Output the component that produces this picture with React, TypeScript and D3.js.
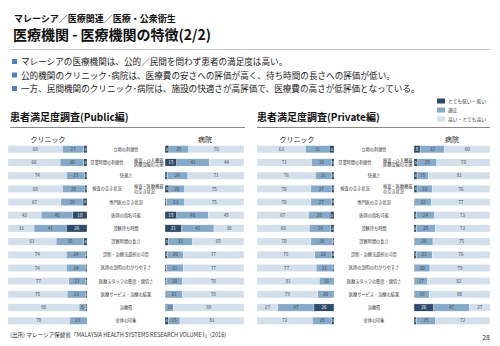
import React from "react";
import * as d3 from "d3";

const categories = [
  "立地の利便性", "営業時間の利便性", "快適さ", "検査の空き状況", "専門医の空き状況",
  "医師の指名可能", "診察待ち時間", "診察時間の長さ", "診断・治療法選択の可否",
  "医師の説明のわかりやすさ", "医療スタッフの態度・親切さ", "医療サービス・治療の結果",
  "治療費", "全体の印象",
];
const hospitalCategories = [
  "立地の利便性", "検査・介入機器|医療設備の実施", "快適さ", "検査・医療機器|の空き状況", "専門医の空き状況",
  "医師の指名可能", "診察待ち時間", "診察時間の長さ", "診断・治療法選択の可否",
  "医師の説明のわかりやすさ", "医療スタッフの態度・親切さ", "医療サービス・治療の結果",
  "治療費", "全体の印象",
];
// [high, neutral, low]
const publicClinic = [
  [69, 27, 4], [66, 30, 4], [74, 23, 3], [69, 28, 3], [67, 28, 5], [42, 40, 18], [33, 41, 26],
  [61, 35, 4], [74, 24, 2], [74, 24, 2], [77, 21, 2], [75, 23, 2], [90, 8, 2], [78, 21, 1],
];
const publicHospital = [
  [70, 25, 5], [44, 41, 15], [71, 26, 3], [75, 20, 5], [75, 23, 2], [45, 40, 15], [38, 41, 21],
  [65, 31, 4], [77, 20, 3], [77, 21, 2], [78, 20, 2], [78, 21, 1], [89, 10, 1], [81, 15, 4],
];
const privateClinic = [
  [63, 31, 6], [71, 26, 3], [76, 21, 3], [70, 27, 3], [70, 27, 3], [67, 28, 5], [68, 28, 4],
  [70, 28, 2], [75, 22, 3], [77, 21, 2], [81, 18, 1], [79, 20, 1], [27, 47, 26], [72, 25, 3],
];
const privateHospital = [
  [60, 32, 8], [70, 25, 5], [81, 15, 4], [76, 20, 4], [77, 22, 1], [73, 24, 3], [72, 25, 3],
  [75, 24, 1], [76, 21, 3], [79, 20, 1], [82, 17, 1], [80, 19, 1], [27, 47, 26], [72, 25, 3],
];
const legendLabels = ["とても低い・低い", "適正", "高い・とても高い"];
const bullets = [
  "マレーシアの医療機関は、公的／民間を問わず患者の満足度は高い。",
  "公的機関のクリニック･病院は、医療費の安さへの評価が高く、待ち時間の長さへの評価が低い。",
  "一方、民間機関のクリニック･病院は、施設の快適さが高評価で、医療費の高さが低評価となっている。",
];

const LIGHT = "#d3e0ec";
const MID = "#85a9c8";
const DARK = "#2f4b67";
const FONT = "'Noto Sans CJK JP', 'Noto Sans', sans-serif";

const yScale = d3.scaleBand<string>().domain(categories.map((_, i) => String(i))).range([143, 327]).paddingInner(0.45).paddingOuter(0.2);

function Bars({ data, x0, x1, reverse }: { data: number[][]; x0: number; x1: number; reverse: boolean }) {
  const x = d3.scaleLinear().domain([0, 100]).range([x0, x1]);
  const colors = [LIGHT, MID, DARK];
  return (
    <g>
      {data.map((row, i) => {
        const order = reverse ? [2, 1, 0] : [0, 1, 2];
        let acc = 0;
        const y = yScale(String(i))!;
        const h = yScale.bandwidth();
        return (
          <g key={i}>
            {order.map((k) => {
              const v = row[k];
              const start = acc;
              acc += v;
              const xs = x(start);
              const w = x(start + v) - xs;
              const fill = k === 2 ? "#ffffff" : "#444";
              return (
                <g key={k}>
                  <rect x={xs} y={y} width={w} height={h} fill={colors[k]} stroke="#ffffff" strokeWidth={0.3} />
                  {v >= 8 ? (
                    <text x={xs + w / 2} y={y + h / 2 + 1.7} fontSize={4.6} textAnchor="middle" fill={fill} fontFamily={FONT}>{v}</text>
                  ) : v >= 2 ? (
                    <text x={xs + w / 2} y={y + h / 2 + 1.4} fontSize={3.8} textAnchor="middle" fill={fill} fontFamily={FONT}>{v}</text>
                  ) : null}
                </g>
              );
            })}
          </g>
        );
      })}
    </g>
  );
}

function Labels({ midL, midR, center }: { midL: number; midR: number; center: number }) {
  return (
    <g fontFamily={FONT} fontSize={4.2} fill="#333">
      {categories.map((c, i) => {
        const y = yScale(String(i))! + yScale.bandwidth() / 2;
        const hc = hospitalCategories[i];
        if (hc === c) {
          return <text key={i} x={center} y={y + 1.5} textAnchor="middle">{c}</text>;
        }
        const lines = hc.split("|");
        return (
          <g key={i}>
            <text x={midL} y={y + 1.5} textAnchor="middle">{c}</text>
            {lines.map((l, j) => (
              <text key={j} x={midR} y={y + 1.5 + (j - (lines.length - 1) / 2) * 4.8}>{l}</text>
            ))}
          </g>
        );
      })}
    </g>
  );
}

export default function App() {
  const legendY = [101, 110, 119];
  return (
    <svg width={500} height={346} style={{ position: "absolute", left: 0, top: 0, background: "#fff" }}>
      <text x={14} y={22} fontSize={9} fontWeight="bold" fontFamily={FONT} fill="#111">マレーシア／医療関連／医療・公衆衛生</text>
      <text x={13} y={40} fontSize={14} fontWeight="bold" fontFamily={FONT} fill="#111">医療機関 - 医療機関の特徴(2/2)</text>
      <line x1={10} x2={490} y1={49.5} y2={49.5} stroke="#c8c8c8" strokeWidth={1} />
      {bullets.map((b, i) => (
        <g key={i}>
          <rect x={12} y={59 + i * 13.5} width={5} height={5} fill="#4f81bd" />
          <text x={21} y={65 + i * 13.5} fontSize={8.6} fontFamily={FONT} fill="#222">{b}</text>
        </g>
      ))}
      {legendLabels.map((l, i) => (
        <g key={i}>
          <rect x={437} y={legendY[i] - 2.5} width={8} height={5} fill={[DARK, MID, LIGHT][i]} />
          <text x={448} y={legendY[i] + 1.7} fontSize={4.8} fontFamily={FONT} fill="#333">{l}</text>
        </g>
      ))}
      <text x={10} y={121} fontSize={10} fontWeight="bold" fontFamily={FONT} fill="#111">患者満足度調査(Public編)</text>
      <line x1={10} x2={245} y1={127.5} y2={127.5} stroke="#888" strokeWidth={1} />
      <text x={257} y={121} fontSize={10} fontWeight="bold" fontFamily={FONT} fill="#111">患者満足度調査(Private編)</text>
      <line x1={257} x2={490} y1={127.5} y2={127.5} stroke="#888" strokeWidth={1} />

      <text x={48} y={142} fontSize={7} textAnchor="middle" fontFamily={FONT} fill="#222">クリニック</text>
      <text x={205} y={142} fontSize={7} textAnchor="middle" fontFamily={FONT} fill="#222">病院</text>
      <text x={297} y={142} fontSize={7} textAnchor="middle" fontFamily={FONT} fill="#222">クリニック</text>
      <text x={452} y={142} fontSize={7} textAnchor="middle" fontFamily={FONT} fill="#222">病院</text>

      <Bars data={publicClinic} x0={8} x1={87} reverse={false} />
      <Bars data={publicHospital} x0={165} x1={244} reverse={true} />
      <Bars data={privateClinic} x0={257} x1={334} reverse={false} />
      <Bars data={privateHospital} x0={414} x1={490} reverse={true} />
      <Labels midL={107} midR={134} center={126} />
      <Labels midL={355} midR={383} center={374} />

      <text x={10} y={337} fontSize={5.6} fontFamily={FONT} fill="#333">(出所) マレーシア保健省「MALAYSIA HEALTH SYSTEMS RESEARCH VOLUME I」(2016)</text>
      <text x={490} y={340} fontSize={7} textAnchor="end" fontFamily={FONT} fill="#333">28</text>
    </svg>
  );
}
